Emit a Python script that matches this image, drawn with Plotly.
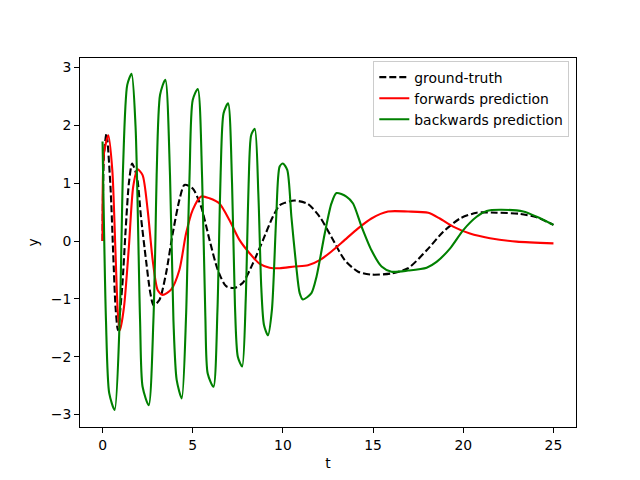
import plotly.graph_objects as go

# ground-truth (black dashed)
gt_t = [0.0, 0.08, 0.22, 0.44, 0.59, 0.72, 0.85, 1.09, 1.28, 1.46, 1.64, 1.91, 2.13, 2.41, 2.65,
        2.83, 3.15, 3.52, 3.89, 4.26, 4.54, 5.0, 5.47, 5.93, 6.39, 6.85, 7.32, 7.78, 8.33, 8.9,
        9.44, 9.82, 10.09, 10.65, 11.39, 12.04, 12.69, 13.43, 14.17, 14.91, 16.02, 16.94, 17.97,
        18.89, 19.82, 20.74, 21.85, 23.15, 24.07, 25.0]
gt_y = [0.0, 1.5, 1.86, 0.94, -0.21, -1.14, -1.54, -0.79, 0.19, 1.0, 1.34, 1.11, 0.42, -0.33, -0.9,
        -1.11, -1.02, -0.56, 0.13, 0.71, 0.97, 0.91, 0.59, 0.02, -0.5, -0.78, -0.81, -0.72, -0.39, 0.02,
        0.42, 0.62, 0.66, 0.7, 0.64, 0.42, 0.07, -0.33, -0.53, -0.58, -0.56, -0.47, -0.16,
        0.16, 0.39, 0.49, 0.49, 0.47, 0.41, 0.28]

# forwards prediction (red)
fw_t = [0.0, 0.08, 0.32, 0.54, 0.72, 0.85, 0.97, 1.19, 1.46, 1.7, 1.94, 2.22, 2.5, 2.78, 3.06,
        3.33, 3.8, 4.26, 4.63, 5.0, 5.47, 5.93, 6.48, 7.04, 7.59, 8.15, 8.7, 9.26, 9.82, 10.65,
        11.39, 12.04, 12.69, 13.43, 14.17, 14.91, 15.83, 16.94, 18.06, 18.7, 19.44, 20.37, 21.48,
        22.96, 25.0]
fw_y = [0.0, 1.52, 1.83, 1.23, -0.21, -1.25, -1.54, -1.14, -0.1, 0.94, 1.24, 1.14, 0.54, -0.33, -0.85,
        -0.93, -0.84, -0.5, 0.13, 0.54, 0.77, 0.74, 0.65, 0.36, 0.02, -0.21, -0.39, -0.46, -0.47, -0.44,
        -0.42, -0.33, -0.18, 0.02, 0.22, 0.39, 0.51, 0.51, 0.49, 0.39, 0.25, 0.13, 0.05,
        -0.01, -0.04]

# backwards prediction (green)
bw_t = [0.0, 0.19, 0.37, 0.67, 0.95, 1.05, 1.14, 1.37, 1.61, 1.83, 2.08, 2.22, 2.56,
        2.82, 2.93, 3.0, 3.19, 3.48, 3.74, 3.93, 4.11, 4.39,
        4.63, 4.73, 4.83, 5.0, 5.28, 5.52, 5.7, 5.83, 6.15,
        6.37, 6.46, 6.55, 6.71, 6.96, 7.18, 7.34, 7.5, 7.74,
        7.94, 8.02, 8.1, 8.24, 8.44, 8.64, 8.8, 8.95, 9.17,
        9.39, 9.63, 9.82, 10.0, 10.24, 10.47, 10.74, 10.93, 11.11, 11.58, 11.86, 12.32, 12.69,
        12.97, 13.52, 13.89, 14.36, 14.91, 15.47, 16.02, 16.94, 17.97, 18.52, 19.26, 20.0,
        20.74, 21.3, 22.04, 23.33, 24.07, 25.0]
bw_y = [1.72, -1.37, -2.63, -2.92, -1.37, 0.0, 1.3, 2.7, 2.89, 1.98, -1.37, -2.52, -2.84,
        -1.37, 0.0, 1.14, 2.53, 2.79, 1.14, -1.37, -2.4, -2.72,
        -1.3, 0.0, 1.2, 2.44, 2.63, 1.1, -1.3, -2.29, -2.52,
        -1.2, 0.0, 1.2, 2.21, 2.38, 1.0, -1.1, -2.0, -2.17,
        -1.0, 0.0, 1.0, 1.83, 1.94, 0.8, -0.8, -1.45, -1.63,
        -1.19, 0.42, 1.29, 1.34, 1.23, 0.42, -0.44, -0.9, -1.01, -0.9, -0.62, 0.13, 0.65,
        0.83, 0.77, 0.65, 0.25, -0.16, -0.44, -0.53, -0.51, -0.46, -0.36, -0.13, 0.19,
        0.42, 0.52, 0.54, 0.51, 0.42, 0.28]

font = dict(family="DejaVu Sans", size=13.9, color="black")

fig = go.Figure()
fig.add_trace(go.Scatter(x=gt_t, y=gt_y, mode="lines", name="ground-truth",
                         line=dict(color="black", width=2.1, dash="7px,3px", shape="spline", smoothing=0.7)))
fig.add_trace(go.Scatter(x=fw_t, y=fw_y, mode="lines", name="forwards prediction",
                         line=dict(color="red", width=2.1, shape="spline", smoothing=0.7)))
fig.add_trace(go.Scatter(x=bw_t, y=bw_y, mode="lines", name="backwards prediction",
                         line=dict(color="green", width=2.1, shape="spline", smoothing=0.7)))

axis_common = dict(showline=True, linecolor="black", linewidth=1.1, mirror=True,
                   ticks="outside", ticklen=4.9, tickwidth=1.1, tickcolor="black",
                   showgrid=False, zeroline=False, tickfont=font)
fig.update_xaxes(range=[-1.25, 26.25], tickmode="array", tickvals=[0, 5, 10, 15, 20, 25],
                 title=dict(text="t", font=font, standoff=6), **axis_common)
fig.update_yaxes(range=[-3.215, 3.165], tickmode="array", tickvals=[-3, -2, -1, 0, 1, 2, 3],
                 title=dict(text="y", font=font, standoff=8), **axis_common)

# the page adds an 8px body margin, so the plot box is shifted up/left to compensate
fig.update_layout(
    width=640, height=480,
    margin=dict(l=72, r=72, t=50, b=61),
    paper_bgcolor="white", plot_bgcolor="white",
    font=font,
    legend=dict(x=0.9865, y=0.993, xanchor="right", yanchor="top",
                bgcolor="rgba(255,255,255,0.8)", bordercolor="#cccccc", borderwidth=1,
                font=font),
)

fig.write_html("out.html")
